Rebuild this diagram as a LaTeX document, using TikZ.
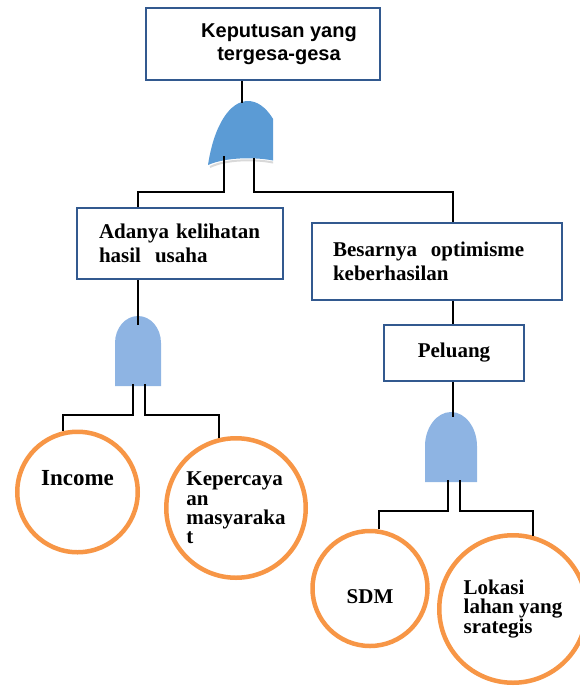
\documentclass[tikz,border=0pt]{standalone}
\usepackage{fontspec}
\setmainfont{Liberation Serif}
\newfontfamily\arial{Liberation Sans}
\setlength{\lineskiplimit}{-20pt}

\definecolor{birutua}{HTML}{32598F}
\definecolor{gerbangtua}{HTML}{5B9BD5}
\definecolor{gerbangmuda}{HTML}{8EB4E3}
\definecolor{oranye}{HTML}{F79646}

\tikzset{
  kotak/.style={draw=birutua, line width=2pt, fill=white,
    font=\bfseries\fontsize{21}{24}\selectfont},
  lingkaran/.style={circle, draw=oranye, line width=4.5pt, fill=white,
    inner sep=0pt, align=left,
    font=\bfseries\fontsize{21}{19.2}\selectfont},
  garis/.style={black, line width=2pt},
}

\begin{document}
\begin{tikzpicture}[x=1pt, y=-1pt]
\useasboundingbox (0,0) rectangle (580,686);

% kejadian puncak
\node[kotak, minimum width=234pt, minimum height=72pt, align=center,
  font=\arial\bfseries\fontsize{20}{23.5}\selectfont] (puncak) at (263,44)
  {\hspace*{32pt}Keputusan yang\\\hspace*{32pt}tergesa-gesa};

% gerbang OR
\begin{scope}
\clip (200,95) rectangle (273,175);
\draw[gray!30, line width=2pt] (210,167) .. controls (228,158) and (268,158) .. (288,167);
\fill[gerbangtua] (208,165) .. controls (214,125) and (230,101) .. (248,101)
  .. controls (266,101) and (282,125) .. (288,165)
  .. controls (268,156) and (228,156) .. cycle;
\end{scope}
\coordinate (orAtas) at (242,103);
\coordinate (orKiri) at (224,156);
\coordinate (orKanan) at (254,158);
\coordinate (belok1) at (0,192);

% kejadian tengah
\node[kotak, text width=162pt, inner xsep=22pt, minimum height=71pt, align=left]
  (kelihatan) at (180,243.5) {Adanya kelihatan\\hasil\ \ usaha};
\node[kotak, text width=208pt, inner xsep=21pt, minimum height=77pt, align=left]
  (optimis) at (437,261.5) {Besarnya\ \ optimisme\\keberhasilan};
\node[kotak, minimum width=140pt, minimum height=56pt] (peluang) at (454,353) {Peluang};

% gerbang AND
\fill[gerbangmuda] (115,386) -- (115,343) .. controls (115,328) and (125.3,316) .. (138,316)
  .. controls (150.7,316) and (161,328) .. (161,343) -- (161,386) -- cycle;
\fill[gerbangmuda] (425,482) -- (425,446) .. controls (425,427.8) and (436.6,412) .. (451,412)
  .. controls (465.4,412) and (477,427.8) .. (477,446) -- (477,482) -- cycle;
\coordinate (danA) at (138,325);
\coordinate (danAkiri) at (133,384);
\coordinate (danAkanan) at (145,384);
\coordinate (belok2) at (0,415);
\coordinate (danB) at (453,417);
\coordinate (danBkiri) at (448,480);
\coordinate (danBkanan) at (460,480);
\coordinate (belok3) at (0,511);

% kejadian dasar
\node[lingkaran, minimum size=120.5pt, text height=16pt, text depth=30pt,
  font=\bfseries\fontsize{23}{26}\selectfont] (income) at (77.5,492) {Income};
\node[lingkaran, minimum size=139.5pt] (percaya) at (236,508) {Kepercaya\\an\\masyaraka\\t};
\node[lingkaran, minimum size=115pt, text height=29pt, text depth=0pt] (sdm) at (370,588.5) {SDM};
\node[lingkaran, minimum size=147.5pt] (lokasi) at (513,609) {Lokasi\\lahan yang\\srategis};

% garis penghubung
\draw[garis] (puncak.south -| orAtas) -- (orAtas);
\draw[garis] (orKiri) |- (belok1 -| danA) -- (danA |- kelihatan.north);
\draw[garis] (orKanan) |- (belok1 -| danB) -- (danB |- optimis.north);
\draw[garis] (danA |- kelihatan.south) -- (danA);
\draw[garis] (danB |- optimis.south) -- (danB |- peluang.north);
\draw[garis] (danB |- peluang.south) -- (danB);
\draw[garis] (danAkiri) |- (belok2 -| income.103) -- (income.103);
\draw[garis] (danAkanan) |- (belok2 -| percaya.104) -- (percaya.104);
\draw[garis] (danBkiri) |- (belok3 -| sdm.81) -- (sdm.81);
\draw[garis] (danBkanan) |- (belok3 -| lokasi.75) -- (lokasi.75);
\end{tikzpicture}
\end{document}
